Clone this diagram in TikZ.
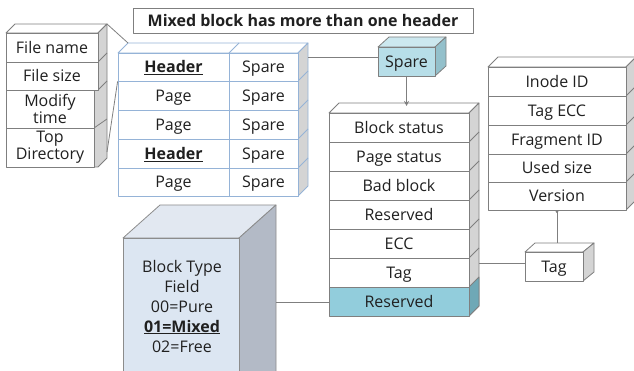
\documentclass[tikz,border=0pt]{standalone}
\usepackage{fontspec}
\setmainfont{Open Sans}
\usetikzlibrary{arrows.meta,calc}
\definecolor{edge}{HTML}{7F7F7F}
\definecolor{sideg}{HTML}{D4D4D4}
\definecolor{txt}{HTML}{202020}
\definecolor{tblue}{HTML}{95B3D7}
\definecolor{spfront}{HTML}{B7DEE8}
\definecolor{sptop}{HTML}{CCE8EF}
\definecolor{spside}{HTML}{93C0CB}
\definecolor{resfront}{HTML}{92CDDC}
\definecolor{resside}{HTML}{6FA8B6}
\definecolor{cfront}{HTML}{DCE6F2}
\definecolor{ctop}{HTML}{E2E8F1}
\definecolor{cside}{HTML}{B3BAC6}
\begin{document}
\begin{tikzpicture}[x=1pt,y=-1pt,line width=0.8pt,line join=round,
  cell/.style={draw=edge,fill=white,text=txt,inner sep=0pt,align=center,
    font=\fontsize{16}{17}\selectfont},
  one/.style={text height=12pt,text depth=0.5pt},
  tcell/.style={cell,one,draw=tblue},
  face/.style={draw=edge,fill=sideg},
  tface/.style={draw=tblue,fill=sideg},
  wface/.style={draw=edge,fill=white},
  conn/.style={draw=edge,line width=0.8pt}]
\useasboundingbox (0,0) rectangle (634,371);
\clip (0,0) rectangle (634,371);

% ---------- title
\node[cell,font=\fontsize{16}{17}\selectfont\bfseries,minimum width=340pt,minimum height=25pt] (title) at (303,20.5) {Mixed block has more than one header};

% ---------- left stack (file info)
\filldraw[wface] (6,33) -- (15,24) -- (107,24) -- (98,33) -- cycle;
\filldraw[face] (98,33) -- (107,24) -- (107,158) -- (98,167) -- (94,167) -- (94,90) -- (98,90) -- cycle;
\draw[edge] (98,62) -- (107,53) (98,90) -- (107,81) (94,128) -- (107,119);
\coordinate (lsTR) at (107,24);
\coordinate (lsBR) at (107,152);
\node[cell,one,minimum width=92pt,minimum height=29pt] (fn) at (52,47.5) {File name};
\node[cell,one,minimum width=92pt,minimum height=28pt] (fs) at (52,76) {File size};
\node[cell,minimum width=88pt,minimum height=38pt] (mt) at (50,109) {Modify\\time};
\node[cell,minimum width=88pt,minimum height=39pt] (td) at (50,147.5) {Top\\Directory};

% ---------- middle table
\filldraw[draw=tblue,fill=white] (118,53) -- (128,43) -- (308,43) -- (298,53) -- cycle;
\draw[tblue] (229,53) -- (239,43);
\filldraw[tface] (298,53) -- (308,43) -- (308,186) -- (298,196) -- cycle;
\draw[tblue] (298,81) -- (308,71) (298,110) -- (308,100) (298,139) -- (308,129) (298,168) -- (308,158);
\coordinate (tblTL) at (128,43);
\coordinate (tblR) at (308,57);
\node[tcell,minimum width=111pt,minimum height=28pt] (h1) at (173.5,67) {\underline{\textbf{Header}}};
\node[tcell,minimum width=69pt,minimum height=28pt] (s1) at (263.5,67) {Spare};
\node[tcell,minimum width=111pt,minimum height=29pt] (p2) at (173.5,95.5) {Page};
\node[tcell,minimum width=69pt,minimum height=29pt] (s2) at (263.5,95.5) {Spare};
\node[tcell,minimum width=111pt,minimum height=29pt] (p3) at (173.5,124.5) {Page};
\node[tcell,minimum width=69pt,minimum height=29pt] (s3) at (263.5,124.5) {Spare};
\node[tcell,minimum width=111pt,minimum height=29pt] (h4) at (173.5,153.5) {\underline{\textbf{Header}}};
\node[tcell,minimum width=69pt,minimum height=29pt] (s4) at (263.5,153.5) {Spare};
\node[tcell,minimum width=111pt,minimum height=28pt] (p5) at (173.5,182) {Page};
\node[tcell,minimum width=69pt,minimum height=28pt] (s5) at (263.5,182) {Spare};

\draw[conn] (lsTR) -- (tblTL);
\draw[conn] (lsBR) -- (h1.south west);

% ---------- spare box
\filldraw[draw=edge,fill=sptop] (378,47) -- (389,37) -- (446,37) -- (435,47) -- cycle;
\filldraw[draw=edge,fill=spside] (435,47) -- (446,37) -- (446,66) -- (435,76) -- cycle;
\node[cell,one,fill=spfront,minimum width=57pt,minimum height=29pt] (spare) at (406.5,61.5) {Spare};
\draw[conn] (tblR) -- (tblR -| spare.west);

% ---------- block stack
\filldraw[wface] (329,113) -- (339,103) -- (479,103) -- (469,113) -- cycle;
\filldraw[face] (469,113) -- (479,103) -- (479,306) -- (469,316) -- cycle;
\filldraw[draw=edge,fill=resside] (469,287) -- (479,277) -- (479,306) -- (469,316) -- cycle;
\draw[edge] (469,142) -- (479,132) (469,171) -- (479,161) (469,200) -- (479,190) (469,229) -- (479,219) (469,258) -- (479,248);
\coordinate (bsTop) at (406.5,106);
\coordinate (bsR) at (479,263);
\node[cell,one,minimum width=140pt,minimum height=29pt] (bst) at (399,127.5) {Block status};
\node[cell,one,minimum width=140pt,minimum height=29pt] (pst) at (399,156.5) {Page status};
\node[cell,one,minimum width=140pt,minimum height=29pt] (bad) at (399,185.5) {Bad block};
\node[cell,one,minimum width=140pt,minimum height=29pt] (res1) at (399,214.5) {Reserved};
\node[cell,one,minimum width=140pt,minimum height=29pt] (ecc) at (399,243.5) {ECC};
\node[cell,one,minimum width=140pt,minimum height=29pt] (tag1) at (399,272.5) {Tag};
\node[cell,one,fill=resfront,minimum width=140pt,minimum height=29pt] (res2) at (399,301.5) {Reserved};
\draw[conn,-{Stealth[length=5pt,width=5pt]}] (spare.south) -- (bsTop);

% ---------- right stack
\filldraw[wface] (488,67) -- (498,57) -- (636,57) -- (626,67) -- cycle;
\filldraw[face] (626,67) -- (636,57) -- (636,200) -- (626,210) -- cycle;
\draw[edge] (626,96) -- (636,86) (626,125) -- (636,115) (626,154) -- (636,144) (626,182) -- (636,172);
\node[cell,one,minimum width=138pt,minimum height=29pt] (ino) at (557,81.5) {Inode ID};
\node[cell,one,minimum width=138pt,minimum height=29pt] (tecc) at (557,110.5) {Tag ECC};
\node[cell,one,minimum width=138pt,minimum height=29pt] (frag) at (557,139.5) {Fragment ID};
\node[cell,one,minimum width=138pt,minimum height=28pt] (used) at (557,168) {Used size};
\node[cell,one,minimum width=138pt,minimum height=28pt] (ver) at (557,196) {Version};

% ---------- tag box
\filldraw[wface] (525,252) -- (535,243) -- (594,243) -- (583,252) -- cycle;
\filldraw[face] (583,252) -- (594,243) -- (594,272) -- (583,281) -- cycle;
\coordinate (tagBack) at (557,243);
\node[cell,one,minimum width=58pt,minimum height=29pt] (tag2) at (554,266.5) {Tag};
\draw[conn,{Circle[length=2.5pt]}-] (ver.south) -- (tagBack);
\draw[conn] (bsR) -- (bsR -| tag2.west);

% ---------- block type cube
\filldraw[draw=edge!90,fill=ctop] (123,238) -- (160,205) -- (276,205) -- (239,238) -- cycle;
\filldraw[draw=edge!90,fill=cside] (239,238) -- (276,205) -- (276,400) -- (239,433) -- cycle;
\node[draw=edge!90,fill=cfront,minimum width=116pt,minimum height=162pt,inner sep=0pt] (cube) at (181,319) {};
\node[text=txt,align=center,font=\fontsize{16}{20}\selectfont] (cubetxt) at (182,306) {Block Type\\Field\\00=Pure\\\underline{\textbf{01=Mixed}}\\02=Free};
\coordinate (cubeR) at (276,302);
\draw[conn] (cubeR) -- (cubeR -| res2.west);
\end{tikzpicture}
\end{document}
